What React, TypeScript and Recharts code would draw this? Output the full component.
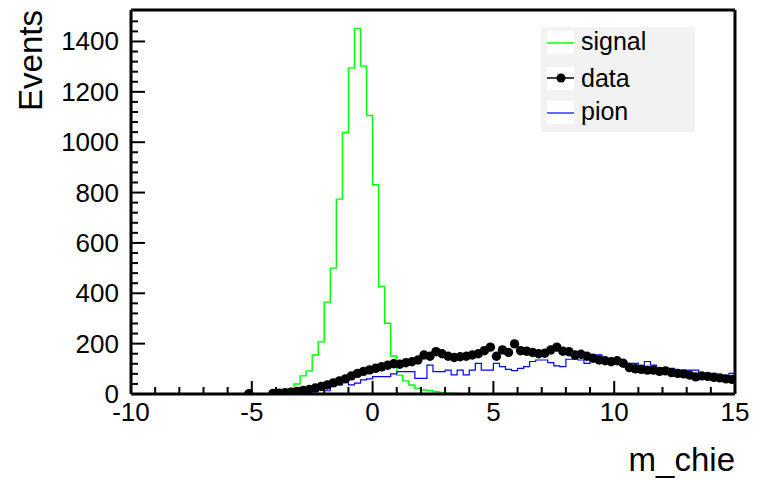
import { ComposedChart, Line, Scatter, ErrorBar, XAxis, YAxis, ReferenceLine } from 'recharts';

const X_MIN = -10;
const X_MAX = 15;
const Y_MAX = 1525;
const BIN = 0.25;

const X_MAJOR = [-10, -5, 0, 5, 10, 15];
const Y_MAJOR = [0, 200, 400, 600, 800, 1000, 1200, 1400];

// counts per 0.25 bin, starting at the given low edge
const SIGNAL_FIRST_BIN = -4.25;
const signalCounts = [
  3, 10, 18, 21, 40, 72, 92, 155, 207, 365, 500, 774, 1039, 1295, 1452, 1302, 1106, 831, 427, 281,
  151, 75, 52, 36, 22, 16, 14, 9, 6, 3, 2, 1,
];

const PION_FIRST_BIN = -4.5;
const pionCounts = [
  1, 2, 3, 4, 5, 5, 6, 8, 8, 22, 13, 36, 36, 49, 36, 43, 56, 60, 69, 69,
  69, 80, 89, 89, 89, 62, 62, 115, 89, 89, 95, 76, 95, 76, 95, 122, 95, 95, 122, 109,
  98, 93, 102, 109, 129, 135, 135, 125, 112, 109, 138, 138, 135, 122, 138, 155, 129, 138, 129, 115,
  122, 122, 102, 129, 115, 102, 82, 102, 95, 95, 95, 95, 76, 76, 82, 76, 69, 82,
];

const DATA_FIRST_BIN = -5.25;
const dataCounts = [
  1, 0, 0, 0, 2, 3, 5, 7, 10, 14, 18, 24, 30, 36, 44, 52, 60, 72, 82, 90,
  96, 102, 108, 114, 120, 118, 124, 128, 135, 155, 150, 168, 160, 150, 145, 148, 150, 155, 160, 172,
  186, 150, 175, 165, 199, 172, 170, 165, 160, 162, 175, 186, 170, 168, 155, 158, 150, 142, 135, 132,
  128, 132, 122, 105, 100, 98, 95, 95, 90, 92, 85, 82, 80, 75, 68, 72, 70, 66, 64, 60, 58,
];

const FONT = '"Liberation Sans", Arial, Helvetica, sans-serif';
const GREEN = '#00ff00';
const BLUE = '#0000ff';

function countAt(first: number, counts: number[], edge: number) {
  const i = Math.round((edge - first) / BIN);
  return i >= 0 && i < counts.length ? counts[i] : 0;
}

const edges: number[] = [];
for (let i = 0; i <= (X_MAX - X_MIN) / BIN; i++) edges.push(X_MIN + i * BIN);

// step rows: value of the bin that starts at each edge, last edge repeats last bin
const histRows = edges.map((x, i) => {
  const e = i === edges.length - 1 ? edges[i - 1] : x;
  return {
    x,
    signal: countAt(SIGNAL_FIRST_BIN, signalCounts, e),
    pion: countAt(PION_FIRST_BIN, pionCounts, e),
  };
});

const dataPoints = dataCounts
  .map((c, i) => ({ x: DATA_FIRST_BIN + BIN * (i + 0.5), y: c, ex: BIN / 2, ey: Math.sqrt(c) }))
  .filter((p) => p.y > 0);

const xTicks: number[] = [];
for (let v = X_MIN; v <= X_MAX; v += 1) xTicks.push(v);
const yTicks: number[] = [];
for (let v = 0; v < Y_MAX - 10; v += 40) yTicks.push(v);

function XTick({ x, y, payload }: any) {
  const major = X_MAJOR.includes(payload.value);
  return (
    <g>
      <line x1={x} x2={x} y1={y} y2={y - (major ? 13 : 7)} stroke="#000" strokeWidth={2} />
      {major && (
        <text x={x} y={y + 27} textAnchor="middle" fontFamily={FONT} fontSize={26} fill="#000">
          {payload.value}
        </text>
      )}
    </g>
  );
}

function YTick({ x, y, payload }: any) {
  const major = Y_MAJOR.includes(payload.value);
  return (
    <g>
      <line x1={x} x2={x + (major ? 14 : 7)} y1={y} y2={y} stroke="#000" strokeWidth={2} />
      {major && (
        <text x={x - 12} y={y + 9} textAnchor="end" fontFamily={FONT} fontSize={26} fill="#000">
          {payload.value}
        </text>
      )}
    </g>
  );
}

function Dot(p: any) {
  return <circle cx={p.cx} cy={p.cy} r={4.7} fill="#000" />;
}

export default function App() {
  return (
    <div style={{ position: 'absolute', left: 0, top: 0, width: 758, height: 480, background: '#fff' }}>
      <ComposedChart
        width={758}
        height={480}
        data={histRows}
        margin={{ top: 10, right: 23, bottom: 0, left: 0 }}
      >
        <XAxis
          dataKey="x"
          type="number"
          domain={[X_MIN, X_MAX]}
          ticks={xTicks}
          interval={0}
          allowDataOverflow
          height={86}
          tickSize={0}
          tickMargin={0}
          tickLine={false}
          tick={<XTick />}
          axisLine={{ stroke: '#000', strokeWidth: 3 }}
        />
        <YAxis
          type="number"
          domain={[0, Y_MAX]}
          ticks={yTicks}
          interval={0}
          allowDataOverflow
          width={131}
          tickSize={0}
          tickMargin={0}
          tickLine={false}
          tick={<YTick />}
          axisLine={{ stroke: '#000', strokeWidth: 3 }}
        />
        <ReferenceLine y={Y_MAX} stroke="#000" strokeWidth={3} ifOverflow="visible" />
        <ReferenceLine x={X_MAX} stroke="#000" strokeWidth={3} ifOverflow="visible" />
        <Line
          type="stepAfter"
          dataKey="signal"
          stroke={GREEN}
          strokeWidth={1.4}
          dot={false}
          isAnimationActive={false}
        />
        <Scatter data={dataPoints} dataKey="y" shape={<Dot />} isAnimationActive={false}>
          <ErrorBar dataKey="ey" direction="y" width={0} stroke="#000" strokeWidth={2} />
          <ErrorBar dataKey="ex" direction="x" width={0} stroke="#000" strokeWidth={2} />
        </Scatter>
        <Line
          type="stepAfter"
          dataKey="pion"
          stroke={BLUE}
          strokeWidth={1.2}
          dot={false}
          isAnimationActive={false}
        />
      </ComposedChart>
      <svg
        width={758}
        height={480}
        style={{ position: 'absolute', left: 0, top: 0, pointerEvents: 'none' }}
        fontFamily={FONT}
      >
        <text x={42} y={10} transform="rotate(-90 42 10)" textAnchor="end" fontSize={33} fill="#000">
          Events
        </text>
        <text x={735} y={471} textAnchor="end" fontSize={33} fill="#000">
          m_chie
        </text>
        <rect x={541} y={27} width={154} height={105} fill="#f2f2f2" />
        <rect x={547} y={31} width={27} height={23} fill="#fff" />
        <rect x={547} y={67} width={27} height={23} fill="#fff" />
        <rect x={547} y={101} width={27} height={23} fill="#fff" />
        <line x1={547} x2={574} y1={43} y2={43} stroke={GREEN} strokeWidth={1.4} />
        <line x1={547} x2={574} y1={78} y2={78} stroke="#000" strokeWidth={1.5} />
        <circle cx={561} cy={78} r={4.5} fill="#000" />
        <line x1={547} x2={574} y1={113} y2={113} stroke={BLUE} strokeWidth={1.2} />
        <text x={581} y={50} fontSize={25} fill="#000">signal</text>
        <text x={581} y={87} fontSize={25} fill="#000">data</text>
        <text x={581} y={120} fontSize={25} fill="#000">pion</text>
      </svg>
    </div>
  );
}
